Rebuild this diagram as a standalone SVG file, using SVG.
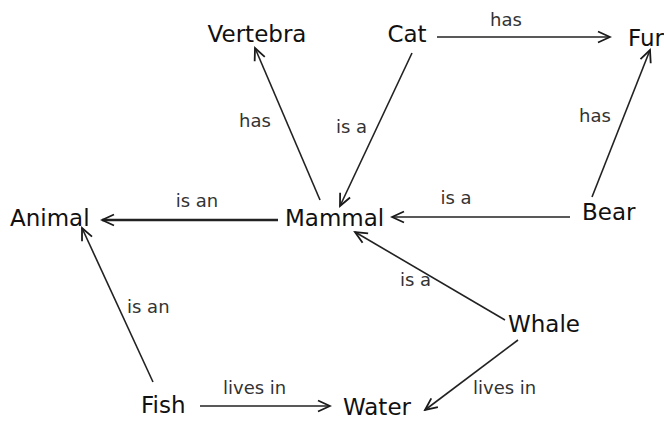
<svg xmlns="http://www.w3.org/2000/svg" width="664" height="421" viewBox="0 0 664 421">
  <defs>
    <marker id="arrow" markerUnits="userSpaceOnUse" markerWidth="16" markerHeight="14" refX="14" refY="7" orient="auto">
      <path d="M2,1.5 L14,7 L2,12.5" fill="none" stroke="#1a1a1a" stroke-width="1.8"/>
    </marker>
    <style>
      .node text { font-family: "DejaVu Sans", sans-serif; font-size: 23px; fill: #111; }
      .edge line { stroke: #222; stroke-width: 1.6; marker-end: url(#arrow); }
      .edge text { font-family: "DejaVu Sans", sans-serif; font-size: 18px; fill: #333; }
      .bold line { stroke-width: 2.4; }
    </style>
  </defs>

  <rect width="664" height="421" fill="#ffffff"/>

  <!-- connectors -->
  <g id="connectors">
    <g class="edge" id="mammal-vertebra">
      <line x1="320" y1="200" x2="255" y2="48"/>
      <text x="255" y="127" text-anchor="middle">has</text>
    </g>
    <g class="edge" id="cat-mammal">
      <line x1="412" y1="53" x2="340" y2="206"/>
      <text x="336" y="133">is a</text>
    </g>
    <g class="edge" id="cat-fur">
      <line x1="437" y1="37" x2="610" y2="37"/>
      <text x="506" y="26" text-anchor="middle">has</text>
    </g>
    <g class="edge" id="bear-fur">
      <line x1="592" y1="197" x2="650" y2="50"/>
      <text x="595" y="122" text-anchor="middle">has</text>
    </g>
    <g class="edge" id="bear-mammal">
      <line x1="570" y1="217" x2="392" y2="217"/>
      <text x="456" y="204" text-anchor="middle">is a</text>
    </g>
    <g class="edge bold" id="mammal-animal">
      <line x1="278" y1="220" x2="102" y2="220"/>
      <text x="197" y="207" text-anchor="middle">is an</text>
    </g>
    <g class="edge" id="whale-mammal">
      <line x1="505" y1="320" x2="355" y2="232"/>
      <text x="400" y="286">is a</text>
    </g>
    <g class="edge" id="whale-water">
      <line x1="518" y1="340" x2="425" y2="410"/>
      <text x="473" y="394">lives in</text>
    </g>
    <g class="edge" id="fish-animal">
      <line x1="153" y1="382" x2="82" y2="228"/>
      <text x="127" y="313">is an</text>
    </g>
    <g class="edge" id="fish-water">
      <line x1="200" y1="406" x2="330" y2="406"/>
      <text x="223" y="394">lives in</text>
    </g>
  </g>

  <!-- concept nodes -->
  <g class="node" id="vertebra"><text x="257" y="42" text-anchor="middle">Vertebra</text></g>
  <g class="node" id="cat"><text x="407" y="42" text-anchor="middle">Cat</text></g>
  <g class="node" id="fur"><text x="628" y="46">Fur</text></g>
  <g class="node" id="animal"><text x="10" y="226">Animal</text></g>
  <g class="node" id="mammal"><text x="285" y="226">Mammal</text></g>
  <g class="node" id="bear"><text x="582" y="220">Bear</text></g>
  <g class="node" id="whale"><text x="508" y="332">Whale</text></g>
  <g class="node" id="fish"><text x="141" y="413">Fish</text></g>
  <g class="node" id="water"><text x="343" y="415">Water</text></g>
</svg>
